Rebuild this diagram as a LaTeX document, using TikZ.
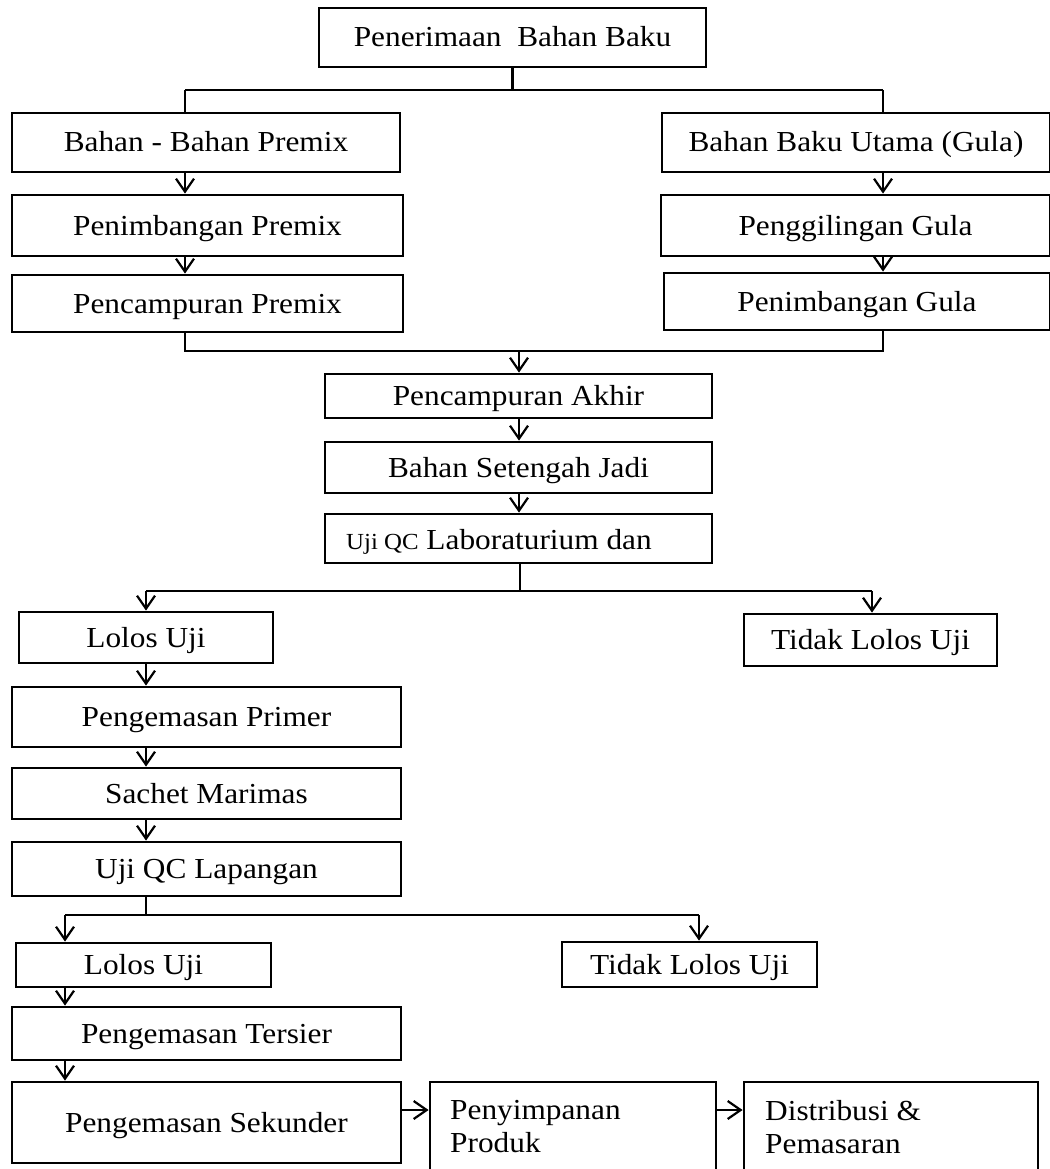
\documentclass[tikz,border=0pt]{standalone}
\usepackage{fontspec}
\setmainfont[FakeStretch=1.08]{Liberation Serif}
\usetikzlibrary{arrows.meta}
\begin{document}
\begin{tikzpicture}[x=1pt,y=-1pt,
  box/.style={draw,line width=2.8pt,inner sep=0pt,text height=20pt,text depth=1pt,font=\fontsize{29}{33}\selectfont},
  conn/.style={line width=2.4pt},
  arr/.style={line width=2.4pt,-{Straight Barb[length=13pt,width=18pt,line width=2.2pt]}},
  txt/.style={inner sep=0pt,font=\fontsize{29}{33}\selectfont}]
\useasboundingbox (0,0) rectangle (1049,1169);
% boxes
\node[box,minimum width=387pt,minimum height=59pt] (top) at (512.5,37.5) {Penerimaan\ \ Bahan Baku};
\node[box,minimum width=388pt,minimum height=59pt] (bpremix) at (206,142.5) {Bahan - Bahan Premix};
\node[box,minimum width=388pt,minimum height=59pt] (butama) at (856,142.5) {Bahan Baku Utama (Gula)};
\node[box,minimum width=391pt,minimum height=61pt] (pimbpremix) at (207.5,225.5) {Penimbangan Premix};
\node[box,minimum width=391pt,minimum height=57pt] (pcampremix) at (207.5,303.5) {Pencampuran Premix};
\node[box,minimum width=389pt,minimum height=61pt] (giling) at (855.5,225.5) {Penggilingan Gula};
\node[box,minimum width=386pt,minimum height=57pt] (pimbgula) at (857,301.5) {Penimbangan Gula};
\node[box,minimum width=387pt,minimum height=44pt] (akhir) at (518.5,396) {Pencampuran Akhir};
\node[box,minimum width=387pt,minimum height=51pt] (setengah) at (518.5,467.5) {Bahan Setengah Jadi};
\node[box,minimum width=387pt,minimum height=49pt] (ujilab) at (518.5,538.5) {};
\node[txt,anchor=base west] (ujilabtxt) at (346,549) {{\fontsize{23}{26}\selectfont Uji QC} Laboraturium dan};
\node[box,minimum width=254pt,minimum height=51pt] (lolos1) at (146,637.5) {Lolos Uji};
\node[box,minimum width=253pt,minimum height=52pt] (tidak1) at (870.5,640) {Tidak Lolos Uji};
\node[box,minimum width=389pt,minimum height=60pt] (primer) at (206.5,717) {Pengemasan Primer};
\node[box,minimum width=389pt,minimum height=51pt] (sachet) at (206.5,793.5) {Sachet Marimas};
\node[box,minimum width=389pt,minimum height=54pt] (lapangan) at (206.5,869) {Uji QC Lapangan};
\node[box,minimum width=255pt,minimum height=44pt] (lolos2) at (143.5,965) {Lolos Uji};
\node[box,minimum width=255pt,minimum height=45pt] (tidak2) at (689.5,964.5) {Tidak Lolos Uji};
\node[box,minimum width=389pt,minimum height=53pt] (tersier) at (206.5,1033.5) {Pengemasan Tersier};
\node[box,minimum width=389pt,minimum height=81pt] (sekunder) at (206.5,1122.5) {Pengemasan Sekunder};
\node[box,minimum width=286pt,minimum height=98pt] (simpan) at (573,1131) {};
\node[txt,anchor=west,align=left] (simpantxt) at (450,1127) {Penyimpanan\\Produk};
\node[box,minimum width=294pt,minimum height=98pt] (distrib) at (891,1131) {};
\node[txt,anchor=west,align=left] (distribtxt) at (765,1127) {Distribusi \&\\Pemasaran};
% junction coordinates
\coordinate (j1L) at (185,90);
\coordinate (j1R) at (883,90);
\coordinate (m1L) at (185,351);
\coordinate (m1R) at (883,351);
\coordinate (m1C) at (519,351);
\coordinate (j2C) at (520,591);
\coordinate (j2L) at (146,591);
\coordinate (j2R) at (872,591);
\coordinate (j3C) at (146,915);
\coordinate (j3L) at (65,915);
\coordinate (j3R) at (699,915);
% connectors
\draw[conn] (top.south) -- (top.south |- j1L);
\draw[conn] (j1L) -- (j1R);
\draw[conn] (j1L) -- (j1L |- bpremix.north);
\draw[conn] (j1R) -- (j1R |- butama.north);
\draw[arr] (bpremix.south -| j1L) -- (pimbpremix.north -| j1L);
\draw[arr] (pimbpremix.south -| j1L) -- (pcampremix.north -| j1L);
\draw[arr] (butama.south -| j1R) -- (giling.north -| j1R);
\draw[arr] (giling.south -| j1R) -- (pimbgula.north -| j1R);
\draw[conn] (pcampremix.south -| m1L) -- (m1L) -- (m1R) -- (pimbgula.south -| m1R);
\draw[arr] (m1C) -- (akhir.north -| m1C);
\draw[arr] (akhir.south -| m1C) -- (setengah.north -| m1C);
\draw[arr] (setengah.south -| m1C) -- (ujilab.north -| m1C);
\draw[conn] (ujilab.south -| j2C) -- (j2C);
\draw[conn] (j2L) -- (j2R);
\draw[arr] (j2L) -- (lolos1.north -| j2L);
\draw[arr] (j2R) -- (tidak1.north -| j2R);
\draw[arr] (lolos1.south -| j2L) -- (primer.north -| j2L);
\draw[arr] (primer.south -| j2L) -- (sachet.north -| j2L);
\draw[arr] (sachet.south -| j2L) -- (lapangan.north -| j2L);
\draw[conn] (lapangan.south -| j3C) -- (j3C);
\draw[conn] (j3L) -- (j3R);
\draw[arr] (j3L) -- (lolos2.north -| j3L);
\draw[arr] (j3R) -- (tidak2.north -| j3R);
\draw[arr] (lolos2.south -| j3L) -- (tersier.north -| j3L);
\draw[arr] (tersier.south -| j3L) -- (sekunder.north -| j3L);
\coordinate (hy) at (0,1110);
\draw[arr] (sekunder.east |- hy) -- (simpan.west |- hy);
\draw[arr] (simpan.east |- hy) -- (distrib.west |- hy);
\end{tikzpicture}
\end{document}
